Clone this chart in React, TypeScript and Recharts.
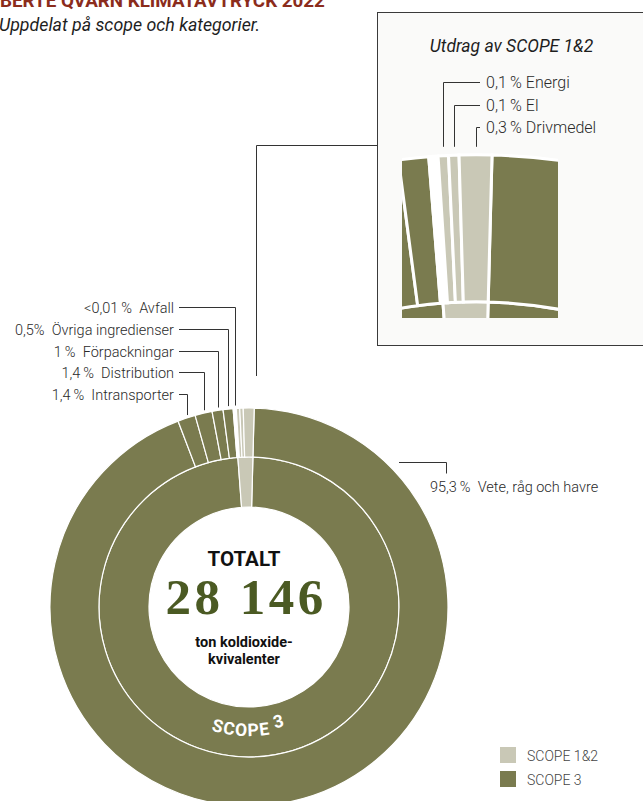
import React from 'react';
import { PieChart, Pie, Cell } from 'recharts';

// outer ring, clockwise from 12 o'clock
const categoryNames = ['Vete, råg och havre', 'Intransporter', 'Distribution', 'Förpackningar', 'Övriga ingredienser', 'Avfall', 'Energi', 'El', 'Drivmedel'];
const categoryPct = ['95,3\u2009%', '1,4\u2009%', '1,4\u2009%', '1\u2009%', '0,5%', '<0,01\u2009%', '0,1\u2009%', '0,1\u2009%', '0,3\u2009%'];
const categoryScope = ['SCOPE 3', 'SCOPE 3', 'SCOPE 3', 'SCOPE 3', 'SCOPE 3', 'SCOPE 3', 'SCOPE 1&2', 'SCOPE 1&2', 'SCOPE 1&2'];
// share of the ring each slice takes in the drawing (the small ones are drawn wider than their true share)
const categoryShare = [93.8, 1.44, 1.39, 0.89, 0.81, 0.25, 0.28, 0.28, 0.88];

// inner ring
const scopeNames = ['SCOPE 3', 'SCOPE 1&2'];
const scopeShare = [98.4, 1.6];
const legendOrder = ['SCOPE 1&2', 'SCOPE 3'];

const title = 'BERTE QVARN KLIMATAVTRYCK 2022';
const subtitle = 'Uppdelat på scope och kategorier.';
const insetTitle = 'Utdrag av SCOPE 1&2';
const totalValue = '28 146';
const totalUnit = ['ton koldioxide-', 'kvivalenter'];

const SCOPE_COLORS: Record<string, string> = { 'SCOPE 3': '#7a7b4f', 'SCOPE 1&2': '#c9c8b6' };
const LINE = '#333333';
const TEXT = '#2a2a2a';
const FONT = 'Roboto, "Open Sans", sans-serif';

const W = 643;
const H = 801;
const CX = 249;
const CY = 607;
const R_IN = 100;
const R_MID = 150;
const R_OUT = 199;
const START = 88.5;
const ZOOM = 3;

// inset box (page coords) and the zoomed pie inside it (box coords)
const BOX_LEFT = 377;
const BOX_TOP = 12;
const BOX_H = 334;
const INSET_CX = 98.4;
const INSET_CY = 738.8;
const CLIP = { x: 24, y: 130, w: 156, h: 175 };

const categoryData = categoryNames.map((name, i) => ({ name, value: categoryShare[i], scope: categoryScope[i] }));
const scopeData = scopeNames.map((name, i) => ({ name, value: scopeShare[i] }));

const sliceFill = (i: number) => (categoryNames[i] === 'Avfall' ? '#ffffff' : SCOPE_COLORS[categoryScope[i]]);

const RAD = Math.PI / 180;
const polar = (cx: number, cy: number, r: number, angle: number) => ({
  x: cx + r * Math.cos(-angle * RAD),
  y: cy + r * Math.sin(-angle * RAD),
});

const labelText = { fontFamily: FONT, fontSize: 14.5, fontWeight: 300, fill: TEXT } as const;

const renderCategoryLabel = (props: any) => {
  const { cx, cy, outerRadius, midAngle, endAngle, index } = props;
  if (index === 0) {
    const a = polar(cx, cy, outerRadius + 10, 44);
    const x0 = Math.round(a.x);
    const y0 = Math.round(a.y) + 0.5;
    return (
      <g>
        <polyline points={`${x0},${y0} ${x0 + 47.5},${y0} ${x0 + 47.5},${y0 + 11}`} fill="none" stroke={LINE} strokeWidth={1} />
        <text x={x0 + 31} y={y0 + 29} {...labelText}>
          {categoryPct[index]}{'\u00a0\u00a0'}{categoryNames[index]}
        </text>
      </g>
    );
  }
  if (index >= 1 && index <= 5) {
    const row = 5 - index;
    const rowY = Math.round(307 + row * 21.8) + 0.5;
    const p = polar(cx, cy, outerRadius, midAngle);
    const vx = Math.round(p.x) + 0.5;
    return (
      <g>
        <polyline points={`179,${rowY} ${vx},${rowY} ${vx},${p.y - 3}`} fill="none" stroke={LINE} strokeWidth={1} />
        <text x={174} y={rowY + 5} textAnchor="end" {...labelText}>
          {categoryPct[index]}{'\u00a0\u00a0'}{categoryNames[index]}
        </text>
      </g>
    );
  }
  if (index === categoryNames.length - 1) {
    // one leader from the scope 1&2 group up to the inset box
    const p = polar(cx, cy, outerRadius, typeof endAngle === 'number' ? endAngle : START);
    const vx = Math.round(p.x) + 2.5;
    const top = cy - outerRadius - 32;
    return (
      <polyline points={`${vx},${top} ${vx},145.5 ${BOX_LEFT},145.5`} fill="none" stroke={LINE} strokeWidth={1} />
    );
  }
  return null;
};

const renderScopeLabel = (props: any) => {
  const { cx, cy, innerRadius, outerRadius, index } = props;
  if (index !== 0) return null;
  const r = (innerRadius + outerRadius) / 2 + 4;
  const arc = `M ${cx - r} ${cy} A ${r} ${r} 0 0 0 ${cx + r} ${cy}`;
  const tx = cx - 5;
  return (
    <g>
      <defs>
        <path id="scope3Arc" d={arc} />
      </defs>
      <text fill="#ffffff" fontFamily={FONT} fontWeight={700} fontSize={17.5} letterSpacing={1}>
        <textPath href="#scope3Arc" startOffset="50%" textAnchor="middle">
          SCOPE <tspan dy={-5}>3</tspan>
        </textPath>
      </text>
      <text x={tx} y={cy - 41} textAnchor="middle" fontFamily={FONT} fontWeight={700} fontSize={20.5} fill="#111111">
        TOTALT
      </text>
      <text x={tx + 2} y={cy + 7} textAnchor="middle" fontFamily='"Liberation Serif", serif' fontWeight={700} fontSize={51} letterSpacing={3.5} fill="#4b5a23">
        {totalValue}
      </text>
      {totalUnit.map((line, i) => (
        <text key={line} x={tx} y={cy + 40 + i * 17} textAnchor="middle" fontFamily={FONT} fontWeight={700} fontSize={14.5} fill="#111111">
          {line}
        </text>
      ))}
    </g>
  );
};

const renderInsetLabel = (props: any) => {
  const { cx, cy, outerRadius, midAngle, index } = props;
  const row = index - 6;
  if (row < 0) return null;
  const p = polar(cx, cy, outerRadius, midAngle);
  const vx = Math.round(p.x) + 0.5;
  const y = Math.round(69 + row * 22.5) + 0.5;
  const yEnd = cy - outerRadius - 8;
  return (
    <g>
      <polyline points={`${vx},${yEnd} ${vx},${y} 102,${y}`} fill="none" stroke={LINE} strokeWidth={1} />
      <text x={108} y={y + 5.5} {...labelText} fontSize={16}>
        {categoryPct[index]} {categoryNames[index]}
      </text>
    </g>
  );
};

const css = `
.inset-chart .recharts-pie-sector, .inset-chart .recharts-sector { clip-path: url(#insetClip); }
`;

export default function App() {
  return (
    <div style={{ position: 'absolute', left: 0, top: 0, width: W, height: H, overflow: 'hidden', background: '#ffffff', fontFamily: FONT }}>
      <style>{css}</style>
      <div style={{ position: 'absolute', left: 0, top: 0 }}>
        <PieChart width={W} height={H} margin={{ top: 0, right: 0, bottom: 0, left: 0 }}>
          <Pie
            data={scopeData}
            dataKey="value"
            nameKey="name"
            cx={CX}
            cy={CY}
            innerRadius={R_IN}
            outerRadius={R_MID}
            startAngle={START}
            endAngle={START - 360}
            stroke="#ffffff"
            strokeWidth={1.2}
            isAnimationActive={false}
            label={renderScopeLabel}
            labelLine={false}
          >
            {scopeData.map((d) => (
              <Cell key={d.name} fill={SCOPE_COLORS[d.name]} />
            ))}
          </Pie>
          <Pie
            data={categoryData}
            dataKey="value"
            nameKey="name"
            cx={CX}
            cy={CY}
            innerRadius={R_MID}
            outerRadius={R_OUT}
            startAngle={START}
            endAngle={START - 360}
            stroke="#ffffff"
            strokeWidth={1.2}
            isAnimationActive={false}
            label={renderCategoryLabel}
            labelLine={false}
          >
            {categoryData.map((d, i) => (
              <Cell key={d.name} fill={sliceFill(i)} />
            ))}
          </Pie>
        </PieChart>
      </div>

      <div
        style={{
          position: 'absolute',
          left: BOX_LEFT,
          top: BOX_TOP,
          width: 300,
          height: BOX_H,
          boxSizing: 'border-box',
          border: '1px solid #3a3a3a',
          background: '#fafaf9',
        }}
      >
        <div className="inset-chart" style={{ position: 'absolute', left: 0, top: 0 }}>
          <PieChart width={298} height={BOX_H - 2} margin={{ top: 0, right: 0, bottom: 0, left: 0 }}>
            <Pie
              data={scopeData}
              dataKey="value"
              nameKey="name"
              cx={INSET_CX}
              cy={INSET_CY}
              innerRadius={R_IN * ZOOM}
              outerRadius={R_MID * ZOOM}
              startAngle={START}
              endAngle={START - 360}
              stroke="#ffffff"
              strokeWidth={3}
              isAnimationActive={false}
              label={false}
              labelLine={false}
            >
              {scopeData.map((d) => (
                <Cell key={d.name} fill={SCOPE_COLORS[d.name]} />
              ))}
            </Pie>
            <Pie
              data={categoryData}
              dataKey="value"
              nameKey="name"
              cx={INSET_CX}
              cy={INSET_CY}
              innerRadius={R_MID * ZOOM}
              outerRadius={R_OUT * ZOOM}
              startAngle={START}
              endAngle={START - 360}
              stroke="#ffffff"
              strokeWidth={3}
              isAnimationActive={false}
              label={renderInsetLabel}
              labelLine={false}
            >
              {categoryData.map((d, i) => (
                <Cell key={d.name} fill={sliceFill(i)} />
              ))}
            </Pie>
          </PieChart>
        </div>
        <svg width={298} height={60} style={{ position: 'absolute', left: 0, top: 0 }}>
          <text x={133.5} y={39} textAnchor="middle" fontFamily={FONT} fontStyle="italic" fontSize={17.5} fill="#1e1e1e">
            {insetTitle}
          </text>
        </svg>
      </div>

      <svg width={W} height={H} style={{ position: 'absolute', left: 0, top: 0, pointerEvents: 'none' }}>
        <defs>
          <clipPath id="insetClip" clipPathUnits="userSpaceOnUse">
            <rect x={CLIP.x} y={CLIP.y} width={CLIP.w} height={CLIP.h} />
          </clipPath>
        </defs>
        <text x={0} y={7} fontFamily={FONT} fontWeight={700} fontSize={18.8} fill="#8b2c1c">
          {title}
        </text>
        <text x={-1} y={31} fontFamily={FONT} fontStyle="italic" fontSize={17.8} fill="#1e1e1e">
          {subtitle}
        </text>
        {legendOrder.map((name, i) => (
          <g key={name}>
            <rect x={500} y={747 + i * 24} width={16} height={16} fill={SCOPE_COLORS[name]} />
            <text x={527} y={761 + i * 24} fontFamily={FONT} fontWeight={300} fontSize={14} fill="#444444">
              {name}
            </text>
          </g>
        ))}
      </svg>
    </div>
  );
}
